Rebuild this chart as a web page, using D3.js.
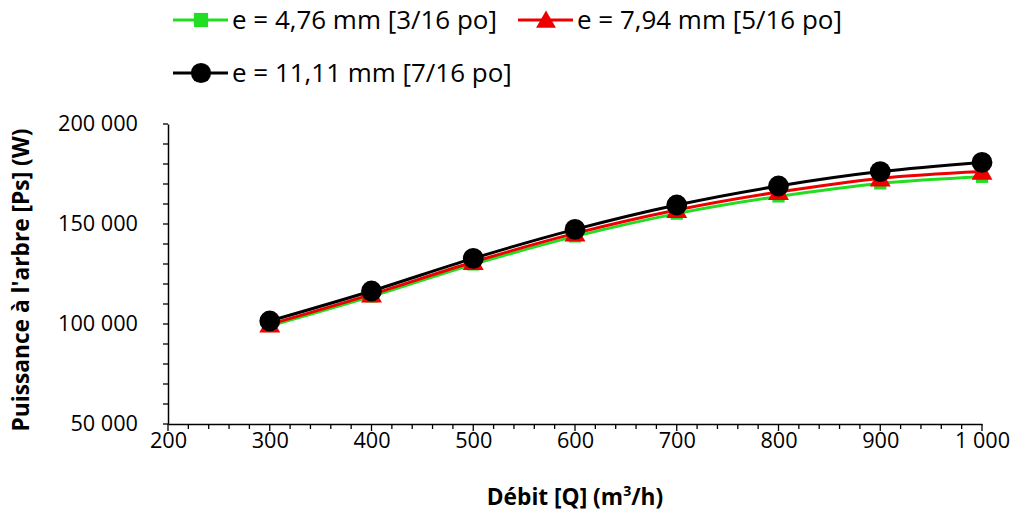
<!DOCTYPE html>
<html>
<head>
<meta charset="utf-8">
<script src="https://cdn.jsdelivr.net/npm/d3@7"></script>
<style>
  html, body { margin: 0; padding: 0; background: #fff; }
  svg { display: block; }
  text { font-family: "Open Sans", Lato, sans-serif; fill: #000; }
</style>
</head>
<body>
<svg id="chart" width="1017" height="516"></svg>
<script>
// ---- data ----
const debit = [300, 400, 500, 600, 700, 800, 900, 1000];
const series476 = [99000, 113800, 129800, 143800, 155200, 163800, 170300, 173600];
const series794 = [99800, 114800, 131000, 145300, 157000, 166000, 172800, 176200];
const series1111 = [101500, 116500, 132800, 147300, 159500, 169000, 176200, 180800];
const seriesNames = ["e = 4,76 mm [3/16 po]", "e = 7,94 mm [5/16 po]", "e = 11,11 mm [7/16 po]"];
const xTicks = [200, 300, 400, 500, 600, 700, 800, 900, 1000];
const yTicks = [50000, 100000, 150000, 200000];

const colors = ["#22dd22", "#ee0000", "#000000"];
const series = [series476, series794, series1111];

const svg = d3.select("#chart");
const L = 168, R = 982, T = 124, B = 424;

const x = d3.scaleLinear().domain([200, 1000]).range([L, R]);
const y = d3.scaleLinear().domain([50000, 200000]).range([B, T]);

const loc = d3.formatLocale({decimal: ",", thousands: "\u202F", grouping: [3], currency: ["", ""]});
const fmt = v => loc.format(",d")(v).replace(/\u202F/g, " ");

// fit a font size so that a reference text has a given width
function fitSize(sampleText, weight, target) {
  const t = svg.append("text").style("font-size", "20px").style("font-weight", weight).text(sampleText);
  const w = t.node().getComputedTextLength();
  t.remove();
  return 20 * target / w;
}
const tickSize = fitSize("200 000", "normal", 80);
const legendSize = fitSize(seriesNames[0], "normal", 265);
const yTitleSize = fitSize("Puissance à l'arbre [Ps] (W)", "bold", 303);

// minor ticks
const g = svg.append("g");
const xMinor = d3.range(200, 1001, 20);
const yMinor = d3.range(50000, 200001, 10000);
g.selectAll(".xm").data(xMinor).join("line")
  .attr("x1", d => x(d)).attr("x2", d => x(d))
  .attr("y1", B).attr("y2", d => d % 100 === 0 ? B + 7 : B + 5)
  .attr("stroke", "#000").attr("stroke-width", 1.3);
g.selectAll(".ym").data(yMinor).join("line")
  .attr("y1", d => y(d)).attr("y2", d => y(d))
  .attr("x1", L).attr("x2", L - 5)
  .attr("stroke", "#000").attr("stroke-width", 1.3);

// axes
const xAxis = svg.append("g").attr("transform", `translate(0,${B})`)
  .call(d3.axisBottom(x).tickValues(xTicks).tickSize(0).tickPadding(9).tickFormat(fmt));
const yAxis = svg.append("g").attr("transform", `translate(${L},0)`)
  .call(d3.axisLeft(y).tickValues(yTicks).tickSize(0).tickPadding(30).tickFormat(fmt));
[xAxis, yAxis].forEach(a => {
  a.select(".domain").attr("stroke", "#000").attr("stroke-width", 1.5);
  a.selectAll("text").style("font-size", tickSize + "px").style("font-family", "'Open Sans', sans-serif").attr("fill", "#000");
});
xAxis.selectAll("text").attr("dy", "0.71em");

// axis titles
const xt = svg.append("text").attr("x", 575).attr("y", 505)
  .attr("text-anchor", "middle").style("font-size", yTitleSize + "px").style("font-weight", "bold");
xt.append("tspan").text("Débit [Q] (m");
xt.append("tspan").text("3").attr("baseline-shift", "super").style("font-size", (yTitleSize * 0.62) + "px");
xt.append("tspan").text("/h)");

svg.append("text").attr("transform", `translate(29,${(T + B) / 2 + 6}) rotate(-90)`)
  .attr("text-anchor", "middle").style("font-size", yTitleSize + "px").style("font-weight", "bold")
  .text("Puissance à l'arbre [Ps] (W)");

// lines
const line = d3.line().x((d, i) => x(debit[i])).y(d => y(d)).curve(d3.curveCatmullRom.alpha(0.5));

const markerSize = [150, 190, 340];
function marker(sel, k, size) {
  if (k === 0) sel.append("path").attr("d", d3.symbol(d3.symbolSquare, size)());
  else if (k === 1) sel.append("path").attr("d", d3.symbol(d3.symbolTriangle, size)()).attr("transform", "translate(0,2)");
  else sel.append("path").attr("d", d3.symbol(d3.symbolCircle, size)());
}

series.forEach((s, k) => {
  svg.append("path").datum(s).attr("d", line).attr("fill", "none")
    .attr("stroke", colors[k]).attr("stroke-width", 3);
  s.forEach((v, i) => {
    const m = svg.append("g").attr("transform", `translate(${x(debit[i])},${y(v)})`).attr("fill", colors[k]);
    marker(m, k, markerSize[k]);
  });
});

// legend
const legendPos = [[173, 20], [518, 20], [173, 73]];
const legendMarker = [200, 170, 320];
legendPos.forEach(([lx, ly], k) => {
  const lg = svg.append("g").attr("transform", `translate(${lx},${ly})`);
  lg.append("line").attr("x1", 0).attr("x2", 55).attr("y1", 0).attr("y2", 0)
    .attr("stroke", colors[k]).attr("stroke-width", 3);
  const m = lg.append("g").attr("transform", "translate(28,0)").attr("fill", colors[k]);
  marker(m, k, legendMarker[k]);
  lg.append("text").attr("x", 59).attr("y", 0).attr("dy", "0.35em")
    .style("font-size", legendSize + "px").text(seriesNames[k]);
});
</script>
</body>
</html>
